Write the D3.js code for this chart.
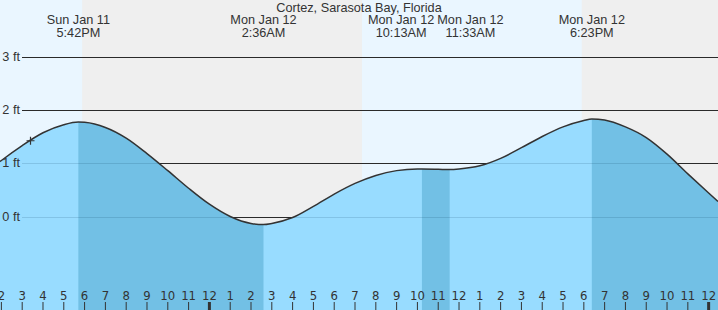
<!DOCTYPE html>
<html>
<head>
<meta charset="utf-8">
<script src="https://cdn.jsdelivr.net/npm/d3@7"></script>
<style>
  body { margin: 0; background: #fff; }
  svg { display: block; }
</style>
</head>
<body>
<div id="chart"></div>
<script>
// tide heights (ft)
const tideTimes = [
  "2026-01-11 13:56", "2026-01-11 14:00", "2026-01-11 15:00", "2026-01-11 16:00", "2026-01-11 17:00",
  "2026-01-11 17:42", "2026-01-11 18:00", "2026-01-11 19:00", "2026-01-11 20:00", "2026-01-11 21:00",
  "2026-01-11 22:00", "2026-01-11 23:00", "2026-01-12 00:00", "2026-01-12 01:00", "2026-01-12 02:00",
  "2026-01-12 02:36", "2026-01-12 03:00", "2026-01-12 04:00", "2026-01-12 05:00", "2026-01-12 06:00",
  "2026-01-12 07:00", "2026-01-12 08:00", "2026-01-12 09:00", "2026-01-12 10:00", "2026-01-12 10:13",
  "2026-01-12 11:00", "2026-01-12 11:33", "2026-01-12 12:00", "2026-01-12 13:00", "2026-01-12 14:00",
  "2026-01-12 15:00", "2026-01-12 16:00", "2026-01-12 17:00", "2026-01-12 18:00", "2026-01-12 18:23",
  "2026-01-12 19:00", "2026-01-12 20:00", "2026-01-12 21:00", "2026-01-12 22:00", "2026-01-12 23:00",
  "2026-01-13 00:00", "2026-01-13 00:27"
];
const tideHeights = [
  1.03, 1.05, 1.33, 1.57, 1.72,
  1.77, 1.765, 1.67, 1.47, 1.18,
  0.86, 0.53, 0.23, 0.00, -0.13,
  -0.15, -0.13, -0.02, 0.19, 0.42,
  0.62, 0.77, 0.86, 0.89, 0.89,
  0.885, 0.88, 0.89, 0.95, 1.09,
  1.29, 1.50, 1.68, 1.80, 1.83,
  1.81, 1.68, 1.48, 1.17, 0.80,
  0.44, 0.28
];

// high / low events shown at the top
const eventTimes = ["2026-01-11 17:42", "2026-01-12 02:36", "2026-01-12 10:13", "2026-01-12 11:33", "2026-01-12 18:23"];
const eventTypes = ["H", "L", "H", "L", "H"];
const eventDays = ["Sun Jan 11", "Mon Jan 12", "Mon Jan 12", "Mon Jan 12", "Mon Jan 12"];
const eventLabels = ["5:42PM", "2:36AM", "10:13AM", "11:33AM", "6:23PM"];

// sunset / sunrise
const sunsets = ["2026-01-11 17:53", "2026-01-12 17:54"];
const sunrises = ["2026-01-12 07:20"];

const title = "Cortez, Sarasota Bay, Florida";
const yTicks = [0, 1, 2, 3];
const markerTime = "2026-01-11 15:24";
const markerHeight = 1.42;

const parse = d3.timeParse("%Y-%m-%d %H:%M");
const W = 718, H = 310;
const startT = parse("2026-01-11 13:56"), endT = parse("2026-01-13 00:27");

const data = tideTimes.map((t, i) => ({ t: parse(t), h: tideHeights[i] }));

const x = d3.scaleTime().domain([startT, endT]).range([0, W]);
const y = d3.scaleLinear().domain([0, 3]).range([216.5, 56.5]);

const svg = d3.select("#chart").append("svg")
  .attr("width", W).attr("height", H)
  .style("font-family", "'Liberation Sans', Arial, sans-serif");

// day / night background
svg.append("rect").attr("width", W).attr("height", H).attr("fill", "#eaf6ff");
const nights = sunsets.map((s, i) => [parse(s), sunrises[i] ? parse(sunrises[i]) : endT]);
svg.selectAll(".night").data(nights).enter().append("rect")
  .attr("x", d => x(d[0]))
  .attr("y", 0)
  .attr("width", d => x(d[1]) - x(d[0]))
  .attr("height", H)
  .attr("fill", "#efefef");

// grid lines
svg.selectAll(".grid").data(yTicks).enter().append("line")
  .attr("x1", 22).attr("x2", W)
  .attr("y1", d => Math.round(y(d)) + 0.5).attr("y2", d => Math.round(y(d)) + 0.5)
  .attr("stroke", "#2a2a2a");

// water
const area = d3.area().x(d => x(d.t)).y0(H).y1(d => y(d.h)).curve(d3.curveMonotoneX);
const line = d3.line().x(d => x(d.t)).y(d => y(d.h)).curve(d3.curveMonotoneX);

svg.append("clipPath").attr("id", "water").append("path").attr("d", area(data));
svg.append("path").attr("d", area(data)).attr("fill", "#98dcff");

// falling tide periods are darker
const falls = [];
eventTimes.forEach((t, i) => {
  if (eventTypes[i] === "H") {
    const nxt = eventTimes[i + 1] ? parse(eventTimes[i + 1]) : endT;
    falls.push([parse(t), nxt]);
  }
});
const wg = svg.append("g").attr("clip-path", "url(#water)");
wg.selectAll("rect").data(falls).enter().append("rect")
  .attr("x", d => x(d[0]))
  .attr("y", 0)
  .attr("width", d => x(d[1]) - x(d[0]))
  .attr("height", H)
  .attr("fill", "#72c0e5");
wg.selectAll("line").data(yTicks).enter().append("line")
  .attr("x1", 22).attr("x2", W)
  .attr("y1", d => Math.round(y(d)) + 0.5).attr("y2", d => Math.round(y(d)) + 0.5)
  .attr("stroke", "rgba(0,40,80,0.14)");

svg.append("path").attr("d", line(data))
  .attr("fill", "none").attr("stroke", "#333").attr("stroke-width", 1.5);

// current time marker
const mx = x(parse(markerTime)), my = y(markerHeight);
svg.append("path")
  .attr("d", `M${mx - 4},${my}H${mx + 4}M${mx},${my - 4}V${my + 4}`)
  .attr("stroke", "#333").attr("stroke-width", 1.2);

// y labels
svg.selectAll(".ylab").data(yTicks).enter().append("text")
  .attr("x", 20).attr("y", d => y(d)).attr("dy", "0.33em")
  .attr("text-anchor", "end")
  .attr("font-size", 12.7).attr("fill", "#333")
  .text(d => d + " ft");

// title
svg.append("text").attr("x", 359).attr("y", 11.5)
  .attr("text-anchor", "middle").attr("font-size", 12.7).attr("fill", "#333")
  .text(title);

// event labels, pushed apart when they overlap
const ev = eventTimes.map((t, i) => ({ cx: x(parse(t)), day: eventDays[i], lab: eventLabels[i] }));
const eg = svg.selectAll(".ev").data(ev).enter().append("g");
eg.append("text").attr("class", "d").attr("y", 24).attr("text-anchor", "middle")
  .attr("font-size", 12.7).attr("fill", "#333").text(d => d.day);
eg.append("text").attr("y", 36.5).attr("text-anchor", "middle")
  .attr("font-size", 12.7).attr("fill", "#333").text(d => d.lab);
eg.each(function (d) { d.w = d3.select(this).select(".d").node().getComputedTextLength(); });
for (let k = 0; k < 5; k++) {
  for (let i = 0; i < ev.length - 1; i++) {
    const a = ev[i], b = ev[i + 1];
    const ov = (a.cx + a.w / 2 + 3) - (b.cx - b.w / 2);
    if (ov > 0) { a.cx -= ov / 2; b.cx += ov / 2; }
  }
}
eg.attr("transform", d => `translate(${d.cx},0)`);

// hour ticks
const hours = d3.timeHour.range(d3.timeHour.ceil(startT), endT);
const ax = svg.append("g");
ax.selectAll("line").data(hours).enter().append("line")
  .attr("x1", d => x(d)).attr("x2", d => x(d))
  .attr("y1", 302).attr("y2", H)
  .attr("stroke", "#333")
  .attr("stroke-width", d => d.getHours() === 0 ? 3 : 1);
ax.selectAll("text").data(hours).enter().append("text")
  .attr("x", d => x(d)).attr("y", 300)
  .attr("text-anchor", "middle")
  .attr("font-size", 13).attr("fill", "#333")
  .style("font-family", "'Liberation Sans Narrow', 'DejaVu Sans Condensed', 'Arial Narrow', sans-serif")
  .text(d => (d.getHours() % 12) || 12);
</script>
</body>
</html>
